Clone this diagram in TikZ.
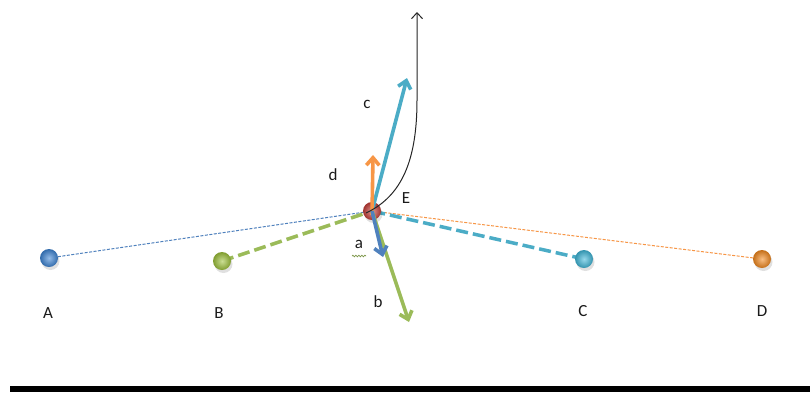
\documentclass[tikz,border=0pt]{standalone}
\usepackage{fontspec}
\setmainfont{Carlito}
\usetikzlibrary{arrows.meta,decorations.pathmorphing}
\definecolor{cA}{HTML}{3D85D6}
\definecolor{cAl}{HTML}{4F81BD}
\definecolor{cB}{HTML}{9BBB59}
\definecolor{cBb}{HTML}{A0C43C}
\definecolor{cC}{HTML}{4BACC6}
\definecolor{cCb}{HTML}{3FB8DA}
\definecolor{cD}{HTML}{F79646}
\definecolor{cDb}{HTML}{F58A1E}
\definecolor{cE}{HTML}{C8403A}
\definecolor{txt}{HTML}{1A1A1A}
\tikzset{
  sphere/.style={circle,minimum size=18pt,inner sep=0pt,inner color=#1!55!white,outer color=#1!80!black},
  lbl/.style={font=\fontsize{17}{19}\selectfont,text=txt,inner sep=0pt},
  vec/.style={line width=3.6pt,draw=#1,-{Straight Barb[length=7.5pt,width=13pt]}},
  thinlink/.style={line width=1pt,draw=#1,dash pattern=on 3pt off 1.5pt},
  thicklink/.style={line width=3.5pt,draw=#1,dash pattern=on 12pt off 5pt},
  shadowdot/.style={fill=black,opacity=0.12,circle,minimum size=18pt,inner sep=0pt}
}
\begin{document}
\begin{tikzpicture}[x=1pt,y=-1pt]
\useasboundingbox (0,0) rectangle (810,392);
\fill[white] (0,0) rectangle (810,392);
% anchor coordinates
\coordinate (pA) at (49,258);
\coordinate (pB) at (222,261);
\coordinate (pC) at (584,259);
\coordinate (pD) at (762,259);
\coordinate (pE) at (372,211);
% links
\draw[thinlink=cAl] (pA) -- (pE);
\draw[thinlink=cD] (pD) -- (pE);
\draw[thicklink=cB] (pB) -- (pE);
\draw[thicklink=cC] (pC) -- (pE);
% shadows
\foreach \p in {pA,pB,pC,pD,pE} \node[shadowdot] at ([shift={(1.5,3)}]\p) {};
% balls
\node[sphere=cA] (A) at (pA) {};
\node[sphere=cBb] (B) at (pB) {};
\node[sphere=cCb] (C) at (pC) {};
\node[sphere=cDb] (D) at (pD) {};
\node[sphere=cE] (E) at (pE) {};
% vectors
\coordinate (tc) at (407,78);
\coordinate (td) at (373,155);
\coordinate (ta) at (383,257);
\coordinate (tb) at (409,322);
\draw[vec=cC] (E.center) -- (tc);
\draw[vec=cB] (E.center) -- (tb);
\draw[vec=cD] ([yshift=-4]E.center) -- (td);
\draw[vec=cAl] (E.center) -- (ta);
% curve
\coordinate (cs) at (366,213);
\coordinate (ct) at (417,12);
\draw[line width=1pt,black!85,-{Straight Barb[length=6pt,width=11pt]}]
  (cs) .. controls (402,196) and (417,160) .. (417,100) -- (ct);
% labels
\node[lbl] (lA) at (48,313) {A};
\node[lbl] (lB) at (219,313) {B};
\node[lbl] (lC) at (583,311) {C};
\node[lbl] (lD) at (762,311) {D};
\node[lbl] (lE) at (406,198) {E};
\node[lbl] (ld) at (333,175) {d};
\node[lbl] (lc) at (367,104) {c};
\node[lbl] (la) at (359,244) {a};
\node[lbl] (lb) at (378,302) {b};
\coordinate (sq1) at (352,256);
\coordinate (sq2) at (366,256);
\draw[cB!80!black,line width=0.7pt,decorate,decoration={snake,amplitude=0.8pt,segment length=3pt}]
  (sq1) -- (sq2);
% bottom bar
\fill[black] (10,386) rectangle (810,392);
\end{tikzpicture}
\end{document}
